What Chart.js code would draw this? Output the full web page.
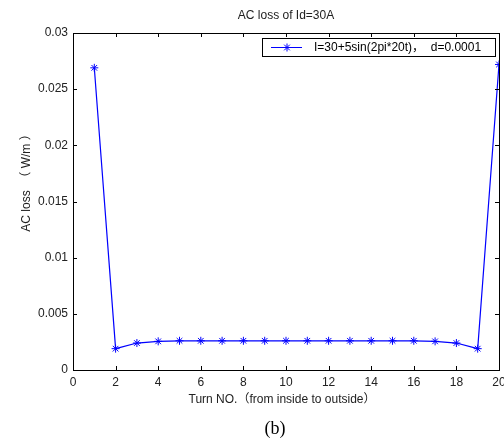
<!DOCTYPE html>
<html>
<head>
<meta charset="utf-8">
<script src="https://cdn.jsdelivr.net/npm/chart.js@4.4.1/dist/chart.umd.min.js"></script>
<style>
    html, body { margin: 0; padding: 0; background: #ffffff; }
    #acLossChart { display: block; }
</style>
</head>
<body>
<canvas id="acLossChart" width="504" height="445"></canvas>
<script>
// Data
var turnNumbers = [1, 2, 3, 4, 5, 6, 7, 8, 9, 10, 11, 12, 13, 14, 15, 16, 17, 18, 19, 20];
var acLossValues = [0.0269, 0.0019, 0.0024, 0.00255, 0.0026, 0.0026, 0.0026, 0.0026, 0.0026, 0.0026,
                    0.0026, 0.0026, 0.0026, 0.0026, 0.0026, 0.0026, 0.00255, 0.0024, 0.0019, 0.0272];
var xTickValues = [0, 2, 4, 6, 8, 10, 12, 14, 16, 18, 20];
var yTickValues = [0, 0.005, 0.01, 0.015, 0.02, 0.025, 0.03];
var yTickLabels = ["0", "0.005", "0.01", "0.015", "0.02", "0.025", "0.03"];

var seriesLabel = "I=30+5sin(2pi*20t)\uFF0C  d=0.0001";
var chartTitle = "AC loss of Id=30A";
var xAxisTitle = "Turn NO.\uFF08from inside to outside\uFF09";
var yAxisTitle = "AC loss  \uFF08 W/m \uFF09";
var captionText = "(b)";

var fontFamily = "'Liberation Sans', Arial, 'Noto Sans CJK SC', sans-serif";
var lineBlue = "#0000ff";

// MATLAB-like frame: box, inward ticks on all sides, boxed legend, titles
var matlabFrame = {
    id: "matlabFrame",
    afterDraw: function (chart)
    {
        var ctx = chart.ctx;
        var area = chart.chartArea;
        var xs = chart.scales.x;
        var ys = chart.scales.y;
        var tickLen = 4;

        ctx.save();
        ctx.strokeStyle = "#000000";
        ctx.lineWidth = 1;
        ctx.strokeRect(area.left + 0.5, area.top + 0.5, area.right - area.left, area.bottom - area.top);

        ctx.beginPath();
        xTickValues.forEach(function (v)
        {
            var px = Math.round(xs.getPixelForValue(v)) + 0.5;
            ctx.moveTo(px, area.bottom);
            ctx.lineTo(px, area.bottom - tickLen);
            ctx.moveTo(px, area.top);
            ctx.lineTo(px, area.top + tickLen);
        });
        yTickValues.forEach(function (v)
        {
            var py = Math.round(ys.getPixelForValue(v)) + 0.5;
            ctx.moveTo(area.left, py);
            ctx.lineTo(area.left + tickLen, py);
            ctx.moveTo(area.right, py);
            ctx.lineTo(area.right - tickLen, py);
        });
        ctx.stroke();

        // Legend box
        var lgLeft = 262, lgTop = 38, lgWidth = 233, lgHeight = 18;
        ctx.fillStyle = "#ffffff";
        ctx.fillRect(lgLeft, lgTop, lgWidth, lgHeight);
        ctx.strokeRect(lgLeft + 0.5, lgTop + 0.5, lgWidth, lgHeight);
        var midY = lgTop + lgHeight / 2 + 0.5;
        ctx.strokeStyle = lineBlue;
        ctx.beginPath();
        ctx.moveTo(lgLeft + 9, midY);
        ctx.lineTo(lgLeft + 40, midY);
        ctx.stroke();
        Chart.helpers.drawPoint(ctx, {pointStyle: "star", radius: 4, borderWidth: 1}, lgLeft + 25, midY);
        ctx.fillStyle = "#000000";
        ctx.font = "12px " + fontFamily;
        ctx.textBaseline = "middle";
        ctx.textAlign = "left";
        ctx.fillText(chart.data.datasets[0].label, lgLeft + 52, midY);

        // Titles
        var cx = (area.left + area.right) / 2;
        ctx.fillStyle = "#222222";
        ctx.textAlign = "center";
        ctx.font = "12px " + fontFamily;
        ctx.fillText(chartTitle, cx, 16);
        ctx.fillText(xAxisTitle, cx - 4, 400);

        ctx.save();
        ctx.translate(27, 180);
        ctx.rotate(-Math.PI / 2);
        ctx.fillText(yAxisTitle, 0, 0);
        ctx.restore();

        ctx.fillStyle = "#000000";
        ctx.font = "18px 'Liberation Serif', 'Times New Roman', serif";
        ctx.fillText(captionText, 275, 429);
        ctx.restore();
    }
};

new Chart(document.getElementById("acLossChart"), {
    type:    "line",
    data:    {
        datasets: [
            {
                label:            seriesLabel,
                data:             turnNumbers.map(function (t, i)
                {
                    return {x: t, y: acLossValues[i]};
                }),
                borderColor:      lineBlue,
                backgroundColor:  lineBlue,
                borderWidth:      1.2,
                pointStyle:       "star",
                pointRadius:      4,
                pointBorderColor: lineBlue,
                pointBorderWidth: 1,
                tension:          0,
                fill:             false
            }
        ]
    },
    options: {
        responsive:       false,
        animation:        false,
        devicePixelRatio: 1,
        layout:           {
            padding: {left: 0, right: 3, top: 33, bottom: 0}
        },
        plugins:          {
            legend:  {display: false},
            title:   {display: false},
            tooltip: {enabled: false}
        },
        scales:           {
            x: {
                type:            "linear",
                min:             0,
                max:             20,
                grid:            {display: false, drawTicks: false},
                border:          {display: false},
                afterBuildTicks: function (scale)
                {
                    scale.ticks = xTickValues.map(function (v)
                    {
                        return {value: v};
                    });
                },
                ticks:           {
                    color:       "#222222",
                    font:        {family: fontFamily, size: 12},
                    padding:     5,
                    maxRotation: 0,
                    autoSkip:    false
                },
                afterFit:        function (scale)
                {
                    scale.height = 75;
                    scale.paddingLeft = 0;
                    scale.paddingRight = 0;
                }
            },
            y: {
                type:            "linear",
                min:             0,
                max:             0.03,
                grid:            {display: false, drawTicks: false},
                border:          {display: false},
                afterBuildTicks: function (scale)
                {
                    scale.ticks = yTickValues.map(function (v)
                    {
                        return {value: v};
                    });
                },
                ticks:           {
                    color:    "#222222",
                    font:     {family: fontFamily, size: 12},
                    padding:  5,
                    autoSkip: false,
                    callback: function (value, index)
                    {
                        return yTickLabels[index];
                    }
                },
                afterFit:        function (scale)
                {
                    scale.width = 73;
                    scale.paddingTop = 0;
                    scale.paddingBottom = 0;
                }
            }
        }
    },
    plugins: [matlabFrame]
});
</script>
</body>
</html>
